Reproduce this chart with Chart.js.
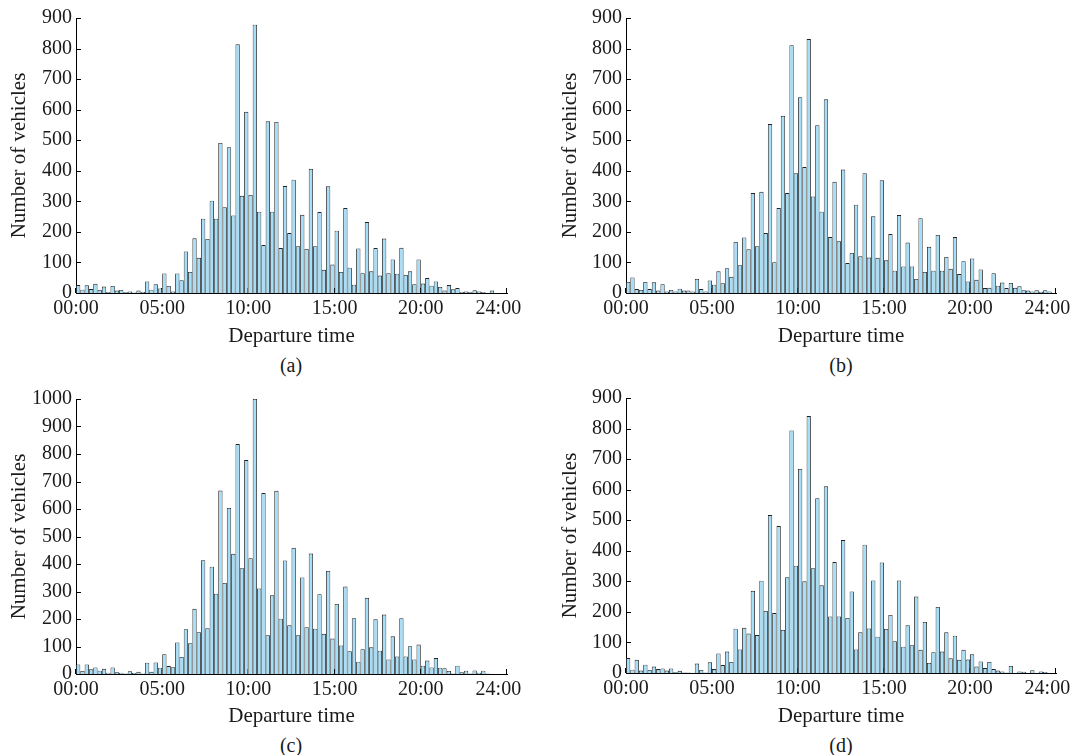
<!DOCTYPE html>
<html><head><meta charset="utf-8">
<script src="https://cdn.jsdelivr.net/npm/chart.js@4.4.1/dist/chart.umd.min.js"></script>
<style>
html,body{margin:0;padding:0;background:#fff;width:1081px;height:755px;overflow:hidden;position:relative;}
.panel{position:absolute;}
.lbl{position:absolute;font-family:'Liberation Serif','Times New Roman',serif;font-size:20px;color:#1a1a1a;transform:translate(-50%,-50%);white-space:nowrap;line-height:1;}
</style></head><body>
<div class="panel" style="left:0;top:0"><canvas id="ca" width="545" height="350"></canvas></div>
<div class="panel" style="left:545px;top:0"><canvas id="cb" width="536" height="350"></canvas></div>
<div class="panel" style="left:0;top:378px"><canvas id="cc" width="545" height="352"></canvas></div>
<div class="panel" style="left:545px;top:378px"><canvas id="cd" width="536" height="352"></canvas></div>
<div class="lbl" id="la" style="left:291px;top:365px"></div>
<div class="lbl" id="lb" style="left:841px;top:365px"></div>
<div class="lbl" id="lc" style="left:291px;top:745px"></div>
<div class="lbl" id="ld" style="left:841px;top:745px"></div>
<script>
// ---- data (15-minute bins, counts of vehicles) ----
const binHours = 0.25;
const xTickHours = [0, 5, 10, 15, 20, 24.5];
const xTickLabels = ['00:00', '05:00', '10:00', '15:00', '20:00', '24:00'];
const xTitle = 'Departure time';
const yTitle = 'Number of vehicles';
const panelLabels = ['(a)', '(b)', '(c)', '(d)'];
const yMaxA = 900, yMaxB = 900, yMaxC = 1000, yMaxD = 900;
const yStep = 100;

const countsA = [26,11,25,13,30,10,21,3,23,8, 10,3,5,2,8,3,38,11,29,15,
  64,23,5,64,42,136,69,179,115,243, 177,302,243,491,281,477,254,814,318,593,
  321,878,266,157,562,266,560,147,350,196, 371,153,256,144,406,153,265,76,349,93,
  204,69,278,83,27,146,65,232,71,147, 57,178,65,110,63,148,59,71,29,110,
  31,49,24,38,20,8,26,12,16,3, 5,4,9,5,3,1,8];
const countsB = [36,51,13,10,36,13,35,8,29,5, 10,5,14,8,8,5,46,13,5,41,
  27,71,32,81,53,167,91,182,143,327, 153,331,196,553,101,278,580,327,811,392,
  641,412,831,316,549,266,634,183,364,169, 404,98,131,289,120,392,116,251,115,369,
  107,193,73,255,87,165,87,46,245,69, 151,73,190,73,118,79,183,62,104,38,
  113,43,77,16,17,65,24,34,16,33, 17,22,9,8,5,9,4,9,5];
const countsC = [35,11,35,17,24,12,19,5,24,6, 5,2,10,4,8,2,41,8,42,23,
  72,29,25,115,62,163,112,237,152,414, 166,390,292,667,331,604,437,836,385,778,
  421,1000,311,658,141,286,666,201,413,177, 459,141,351,170,438,165,290,146,375,129,
  255,104,318,83,203,45,90,277,97,199, 85,216,53,137,64,203,64,101,53,107,
  30,49,24,58,23,21,11,2,30,6, 12,2,13,5,12,2];
const countsD = [49,11,43,8,27,10,21,13,15,8, 15,3,7,2,2,1,31,10,2,35,
  13,64,26,70,36,145,77,148,129,269, 124,302,203,517,196,481,141,313,794,351,
  668,300,841,343,572,287,611,185,363,185, 435,180,267,77,133,420,146,303,119,362,
  144,190,104,303,86,156,91,250,76,167, 33,68,216,70,133,48,122,43,76,44,
  61,21,38,16,36,13,8,5,2,23, 1,5,4,1,9,1,5,3];

// ---- styles ----
const FILL = 'rgb(166,222,248)';
const EDGE = '#222222';
const TEXT = '#1a1a1a';
const FONT = {family: "'Liberation Serif', 'Times New Roman', serif", size: 20};
const TITLE_FONT = {family: "'Liberation Serif', 'Times New Roman', serif", size: 21};

const inwardTicks = {
  id: 'inwardTicks',
  beforeDatasetsDraw(chart) {
    const {ctx, chartArea: a, scales: {x, y}} = chart;
    ctx.save();
    ctx.strokeStyle = '#000';
    ctx.lineWidth = 1;
    ctx.beginPath();
    y.ticks.forEach(t => {
      const py = Math.round(y.getPixelForValue(t.value)) + 0.5;
      ctx.moveTo(a.left, py); ctx.lineTo(a.left + 5, py);
    });
    const xs = xTickHours.slice(0, -1).concat([x.max]);
    xs.forEach(v => {
      const px = Math.round(x.getPixelForValue(v)) - 0.5;
      ctx.moveTo(px, a.bottom); ctx.lineTo(px, a.bottom - 5);
    });
    ctx.stroke();
    ctx.restore();
  }
};

function makeChart(id, counts, yMax, g) {
  const pts = counts.map((c, i) => ({x: (i + 0.5) * binHours, y: c}));
  return new Chart(document.getElementById(id), {
    type: 'bar',
    data: {datasets: [{
      data: pts, backgroundColor: FILL, borderColor: EDGE, borderWidth: 0.85,
      barPercentage: 1, categoryPercentage: 1, inflateAmount: 0, borderSkipped: 'start'
    }]},
    options: {
      responsive: false, animation: false, events: [],
      layout: {padding: {left: 0, right: g.padR, top: g.padT, bottom: 0}},
      plugins: {legend: {display: false}, tooltip: {enabled: false}, title: {display: false}},
      scales: {
        x: {
          type: 'linear', min: 0, max: 25, offset: false,
          grid: {display: false, drawTicks: false},
          border: {display: true, color: '#000', width: 1},
          afterBuildTicks(s) { s.ticks = xTickHours.map(v => ({value: v})); },
          ticks: {autoSkip: false, maxRotation: 0, padding: 4, font: FONT, color: TEXT,
                  callback: (v, i) => xTickLabels[i]},
          title: {display: true, text: xTitle, font: TITLE_FONT, color: TEXT, padding: {top: 0, bottom: g.xTitlePadB}},
          afterFit(s) { s.height = g.xAxisH; }
        },
        y: {
          min: 0, max: yMax,
          grid: {display: false, drawTicks: false},
          border: {display: true, color: '#000', width: 1},
          ticks: {stepSize: yStep, autoSkip: false, padding: 4, font: FONT, color: TEXT,
                  callback: v => String(v)},
          title: {display: true, text: yTitle, font: TITLE_FONT, color: TEXT, padding: {top: g.yTitlePad, bottom: 0}},
          afterFit(s) { s.width = g.yAxisW; }
        }
      }
    },
    plugins: [inwardTicks]
  });
}

makeChart('ca', countsA, yMaxA, {padR: 38, padT: 18, xAxisH: 57, yAxisW: 76, yTitlePad: 7, xTitlePadB: 1});
makeChart('cb', countsB, yMaxB, {padR: 25, padT: 18, xAxisH: 57, yAxisW: 81, yTitlePad: 13, xTitlePadB: 1});
makeChart('cc', countsC, yMaxC, {padR: 38, padT: 21, xAxisH: 56, yAxisW: 76, yTitlePad: 7, xTitlePadB: 1});
makeChart('cd', countsD, yMaxD, {padR: 25, padT: 20, xAxisH: 57, yAxisW: 81, yTitlePad: 13, xTitlePadB: 1});

['la', 'lb', 'lc', 'ld'].forEach((id, i) => { document.getElementById(id).textContent = panelLabels[i]; });
</script>
</body></html>
